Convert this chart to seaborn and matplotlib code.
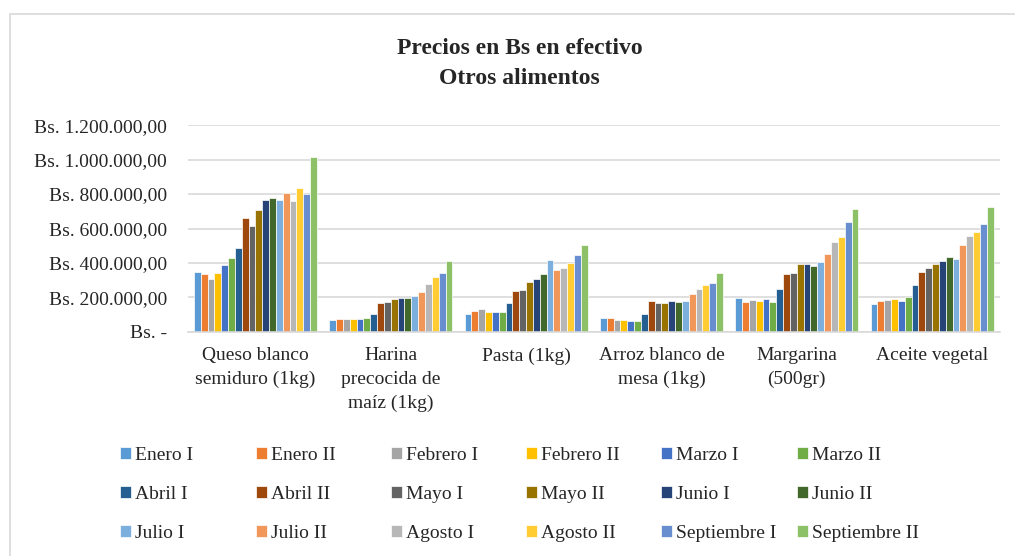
import pandas as pd
import seaborn as sns
import matplotlib.pyplot as plt
from matplotlib.patches import Rectangle
from matplotlib.ticker import FuncFormatter

# Categories and periods
productos = ['Queso blanco\nsemiduro (1kg)', 'Harina\nprecocida de\nmaíz (1kg)', 'Pasta (1kg)',
             'Arroz blanco de\nmesa (1kg)', 'Margarina\n(500gr)', 'Aceite vegetal']
periodos = ['Enero I', 'Enero II', 'Febrero I', 'Febrero II', 'Marzo I', 'Marzo II',
            'Abril I', 'Abril II', 'Mayo I', 'Mayo II', 'Junio I', 'Junio II',
            'Julio I', 'Julio II', 'Agosto I', 'Agosto II', 'Septiembre I', 'Septiembre II']

# Prices (Bs.) per product, one value per period
queso = [346000, 337000, 308000, 342000, 387000, 431000, 487000, 660000, 613000,
         708000, 767000, 777000, 763000, 804000, 762000, 835000, 798000, 1017000]
harina = [69000, 73000, 75000, 73000, 76000, 82000, 106000, 169000, 175000,
          190000, 194000, 196000, 208000, 233000, 280000, 318000, 343000, 410000]
pasta = [103000, 120000, 132000, 115000, 115000, 118000, 167000, 237000, 243000,
         289000, 309000, 334000, 416000, 357000, 371000, 400000, 449000, 505000]
arroz = [80000, 80000, 72000, 68000, 66000, 62000, 103000, 179000, 167000,
         169000, 179000, 173000, 181000, 221000, 247000, 274000, 282000, 342000]
margarina = [194000, 171000, 185000, 181000, 192000, 173000, 250000, 335000, 340000,
             394000, 392000, 383000, 406000, 452000, 523000, 550000, 638000, 715000]
aceite = [162000, 179000, 185000, 190000, 179000, 204000, 271000, 350000, 369000,
          396000, 410000, 437000, 423000, 506000, 558000, 577000, 629000, 727000]

colores = ['#5B9BD5', '#ED7D31', '#A5A5A5', '#FFC000', '#4472C4', '#70AD47',
           '#255E91', '#9E480E', '#636363', '#997300', '#264478', '#43682B',
           '#7CAFDD', '#F1975A', '#B7B7B7', '#FFCD33', '#698ED0', '#8CC168']

valores = [queso, harina, pasta, arroz, margarina, aceite]
rows = []
for prod, vals in zip(productos, valores):
    for per, v in zip(periodos, vals):
        rows.append({'Producto': prod, 'Periodo': per, 'Precio': v})
df = pd.DataFrame(rows)

sns.set_style('white')
plt.rcParams['font.family'] = ['Liberation Serif', 'DejaVu Serif']

fig = plt.figure(figsize=(10.15, 5.56), dpi=100)
ax = fig.add_axes([0.185, 0.403, 0.800, 0.372])

sns.barplot(data=df, x='Producto', y='Precio', hue='Periodo', order=productos,
            hue_order=periodos, palette=colores, width=0.91, ax=ax,
            edgecolor='white', linewidth=0.5, saturation=1)

ax.set_ylim(0, 1200000)
ax.set_yticks(range(0, 1200001, 200000))


def fmt(v, pos):
    if v == 0:
        return 'Bs. -'
    return 'Bs. ' + f'{int(v):,}'.replace(',', '.') + ',00'


ax.yaxis.set_major_formatter(FuncFormatter(fmt))
ax.grid(axis='y', color='#D9D9D9', linewidth=1.2)
ax.set_axisbelow(True)
for s in ['top', 'right', 'left']:
    ax.spines[s].set_visible(False)
ax.spines['bottom'].set_color('#D9D9D9')
ax.spines['bottom'].set_linewidth(1.2)
ax.tick_params(axis='y', labelsize=14, length=0, pad=15)
ax.tick_params(axis='x', labelsize=14, length=0, pad=11)
ax.set_xticks(range(len(productos)))
ax.set_xticklabels(productos, linespacing=1.5, va='top')
ax.set_xlabel('')
ax.set_ylabel('')

fig.text(0.512, 0.912, 'Precios en Bs en efectivo', ha='center', va='center',
         fontsize=17, fontweight='bold')
fig.text(0.512, 0.858, 'Otros alimentos', ha='center', va='center',
         fontsize=17, fontweight='bold')

# legend: rows filled left to right like Excel, one legend per column
handles, labels = ax.get_legend_handles_labels()
ax.get_legend().remove()
col_x = [120, 256, 391, 526, 661, 797]
for j in range(6):
    fig.legend(handles[j::6], labels[j::6], loc='upper left',
               bbox_to_anchor=(col_x[j] / 1015, 1 - 447 / 556), frameon=False,
               fontsize=14, handlelength=0.55, handleheight=0.55, handletextpad=0.2,
               labelspacing=1.13, borderaxespad=0, borderpad=0)

# chart frame
fig.patches.append(Rectangle((10 / 1015, -0.1), 1.2, 1.1 - 14 / 556,
                             transform=fig.transFigure, fill=False,
                             edgecolor='#D9D9D9', linewidth=1.2))

fig.savefig('out.png', dpi=100)
